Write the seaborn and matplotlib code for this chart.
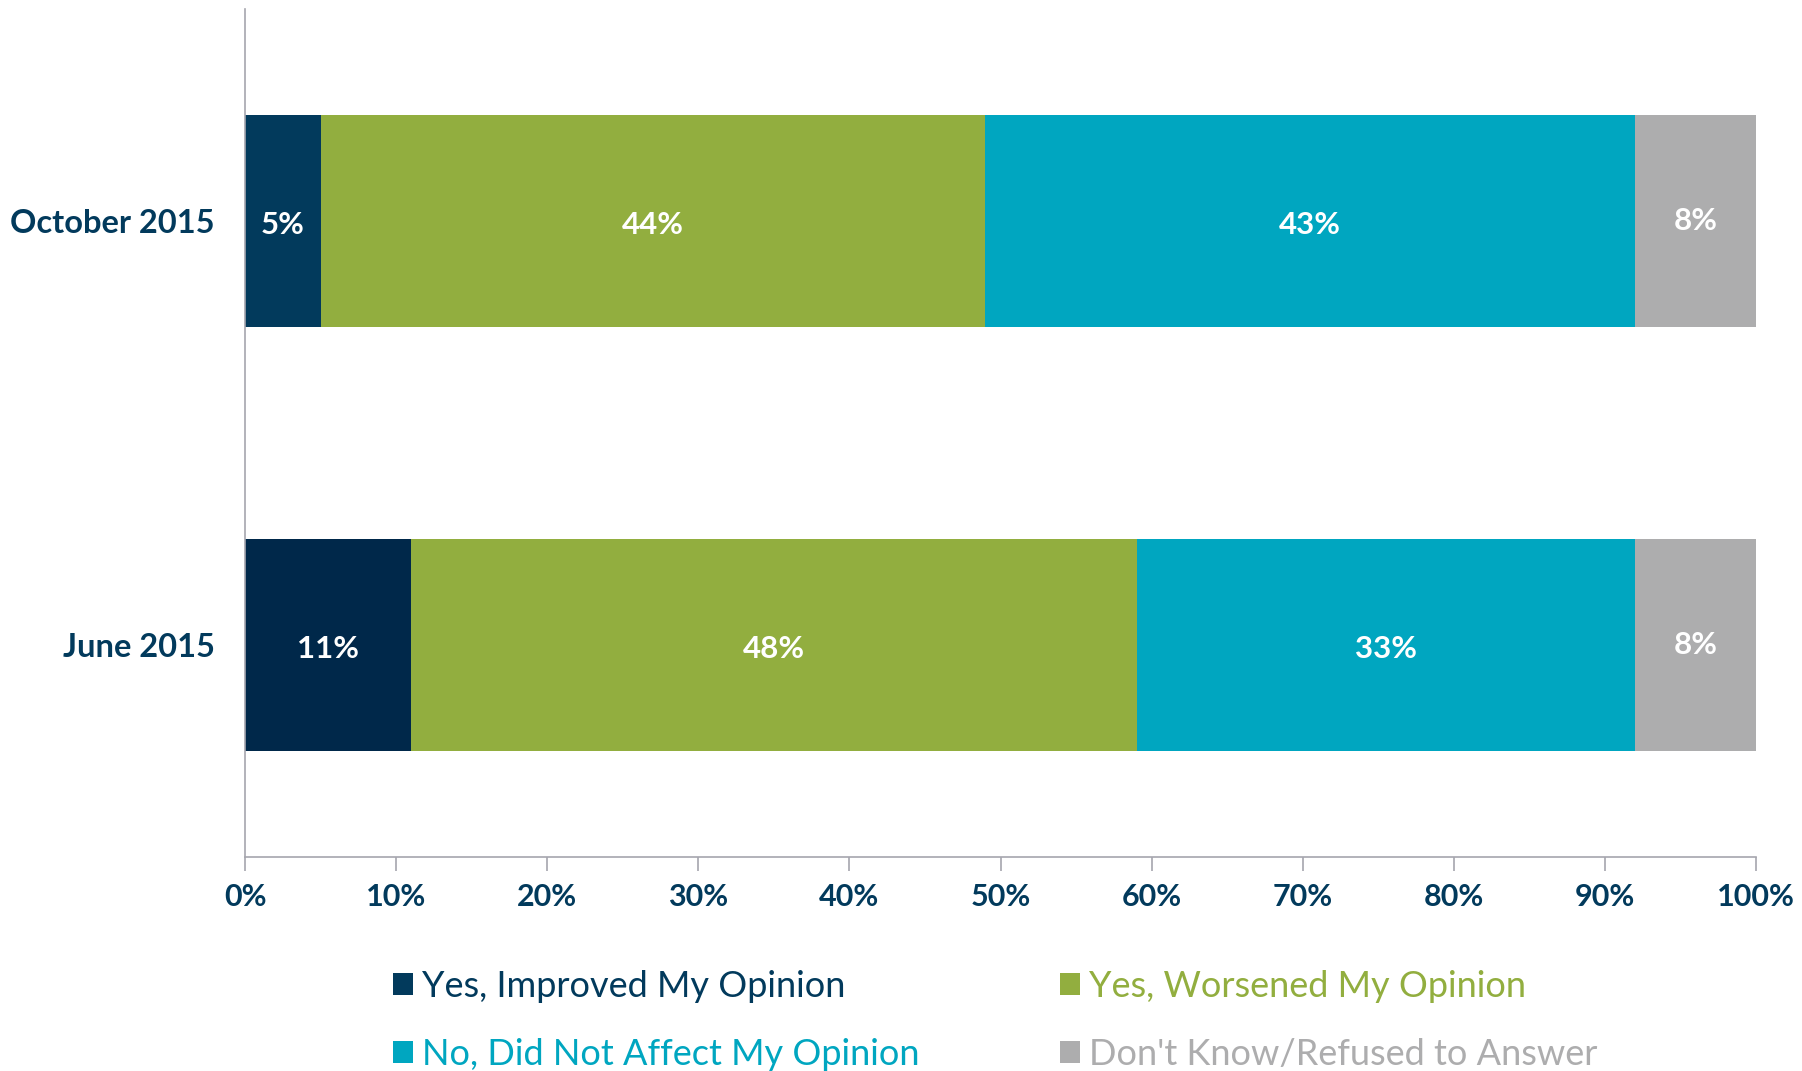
import pandas as pd
import matplotlib.pyplot as plt
import seaborn as sns
from matplotlib.patches import Patch

sns.set_theme(style="white")
plt.rcParams['font.family'] = ['Lato', 'DejaVu Sans']

# datos
periods = ['October 2015', 'June 2015']
categories = ['Yes, Improved My Opinion', 'Yes, Worsened My Opinion',
              'No, Did Not Affect My Opinion', "Don't Know/Refused to Answer"]
improved = [5, 11]
worsened = [44, 48]
no_effect = [43, 33]
dont_know = [8, 8]
x_ticks = [0, 10, 20, 30, 40, 50, 60, 70, 80, 90, 100]

colors = ['#023A5C', '#92AE3F', '#00A6C0', '#ADADAE']
first_colors = {'October 2015': '#023A5C', 'June 2015': '#00284A'}
navy = '#023A5C'

values = [improved, worsened, no_effect, dont_know]
rows = []
for cat, vals in zip(categories, values):
    for p, v in zip(periods, vals):
        rows.append({'period': p, 'category': cat, 'value': v})
df = pd.DataFrame(rows)
df['cum'] = df.groupby('period')['value'].cumsum()
df['mid'] = df['cum'] - df['value'] / 2

fig = plt.figure(figsize=(18.02, 10.71), dpi=100)
ax = fig.add_axes([0.136, 0.2, 0.8385, 0.7916])

# barras apiladas: acumulados de mayor a menor
for i in reversed(range(len(categories))):
    sub = df[df['category'] == categories[i]]
    if i == 0:
        sns.barplot(data=sub, x='cum', y='period', hue='period', palette=first_colors,
                    order=periods, orient='h', width=0.5, linewidth=0,
                    saturation=1, legend=False, ax=ax)
    else:
        sns.barplot(data=sub, x='cum', y='period', color=colors[i], order=periods,
                    orient='h', width=0.5, linewidth=0, saturation=1, ax=ax)

for _, r in df.iterrows():
    yi = periods.index(r['period'])
    dy = 0.0 if r['category'] == categories[3] else 0.01
    ax.text(r['mid'], yi + dy, f"{r['value']}%", ha='center', va='center',
            color='white', fontsize=22.5, fontweight='bold')

ax.set_xlim(0, 100)
ax.set_ylim(1.5, -0.5)
ax.set_xticks(x_ticks)
ax.set_xticklabels([f"{t}%" for t in x_ticks])
ax.set_xlabel('')
ax.set_ylabel('')
ax.tick_params(axis='x', bottom=True, length=10, width=1.2, color='#A6A6AE',
               labelsize=22, labelcolor=navy, pad=9)
ax.tick_params(axis='y', left=False, labelsize=23.5, labelcolor=navy, pad=16)
for lab in ax.get_xticklabels() + ax.get_yticklabels():
    lab.set_fontweight('bold')

for s in ['top', 'right']:
    ax.spines[s].set_visible(False)
for s in ['left', 'bottom']:
    ax.spines[s].set_color('#A6A6AE')
    ax.spines[s].set_linewidth(1.2)

# leyenda
order = [0, 2, 1, 3]
handles = [Patch(facecolor=colors[i], edgecolor='none') for i in order]
labels = [categories[i] for i in order]
leg = fig.legend(handles, labels, ncol=2, loc='upper left',
                 bbox_to_anchor=(0.21, 0.108), frameon=False, fontsize=26,
                 handlelength=0.55, handleheight=0.55, handletextpad=0.25,
                 columnspacing=3.9, labelspacing=0.97, borderaxespad=0)
for t, i in zip(leg.get_texts(), order):
    t.set_color(colors[i])

fig.savefig('out.png', dpi=100)
